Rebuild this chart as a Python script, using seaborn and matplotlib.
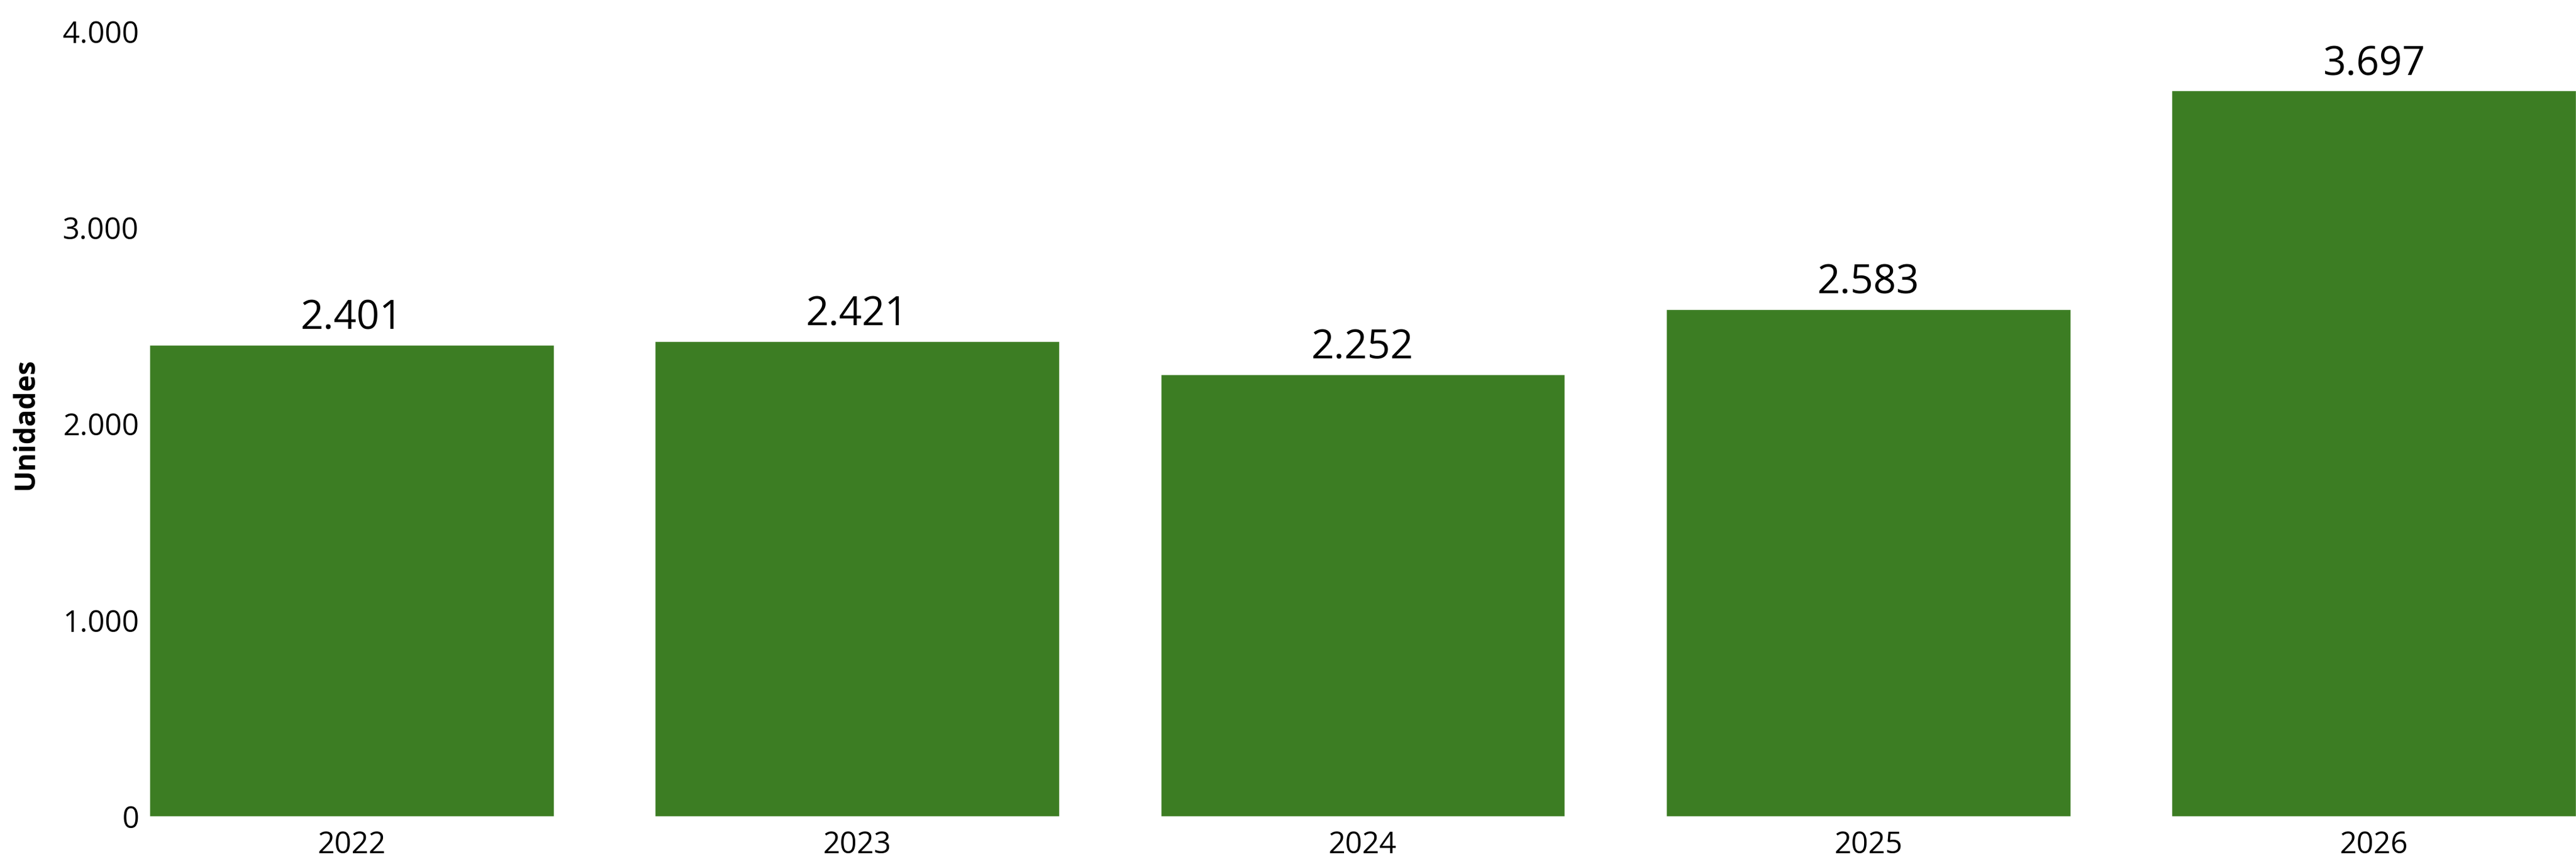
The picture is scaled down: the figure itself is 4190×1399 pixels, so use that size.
import matplotlib
matplotlib.use("Agg")
import matplotlib.pyplot as plt
import seaborn as sns
import pandas as pd
from matplotlib.ticker import FuncFormatter

years = ["2022", "2023", "2024", "2025", "2026"]
units = [2401, 2421, 2252, 2583, 3697]
yticks = [0, 1000, 2000, 3000, 4000]
ylabel = "Unidades"
bar_color = "#3C7D23"

sns.set_theme(style="white")
plt.rcParams['font.family'] = ['Open Sans', 'DejaVu Sans']

def fmt(v):
    return f"{int(round(v)):,}".replace(",", ".")

df = pd.DataFrame({"year": years, "units": units})

fig = plt.figure(figsize=(41.9, 13.995), dpi=100)
ax = fig.add_axes([243/4190, 1 - 1328/1399, 1 - 243/4190, (1328 - 51)/1399])

sns.barplot(data=df, x="year", y="units", color=bar_color, saturation=1,
            width=0.8, ax=ax, clip_on=False)

ax.set_xlim(-0.4, 4.4)
ax.set_ylim(0, 4000)
ax.set_yticks(yticks)
ax.yaxis.set_major_formatter(FuncFormatter(lambda v, p: fmt(v)))
for s in ax.spines.values():
    s.set_visible(False)
ax.tick_params(axis="both", length=0, labelsize=35, colors="black")
ax.tick_params(axis="y", pad=12)
ax.tick_params(axis="x", pad=16)
ax.set_xlabel("")
ax.set_ylabel(ylabel, fontsize=33, fontweight="bold", color="black")
ax.yaxis.set_label_coords(-0.045, 0.5)
ax.grid(False)

for c in ax.containers:
    ax.bar_label(c, labels=[fmt(v) for v in units], padding=7, fontsize=47, color="black")

fig.savefig("out.png", dpi=100, facecolor="white")
